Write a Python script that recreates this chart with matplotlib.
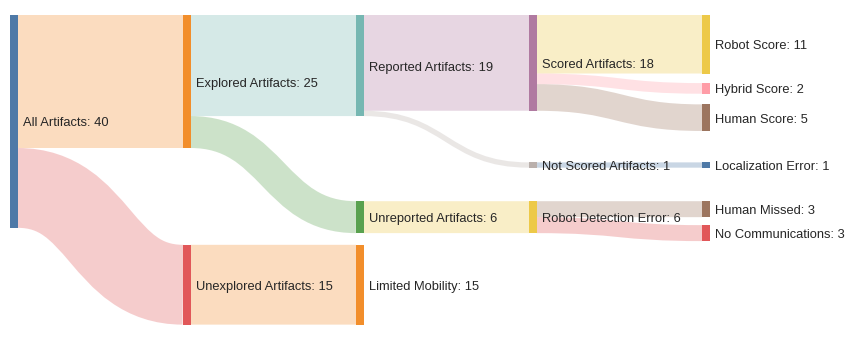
#!/usr/bin/env python3

import matplotlib
matplotlib.use('Agg')
import matplotlib.pyplot as plt
from matplotlib.path import Path
from matplotlib.patches import PathPatch, Rectangle

# --- data -------------------------------------------------------------
nodes = [
    'All Artifacts', 'Explored Artifacts', 'Unexplored Artifacts',
    'Reported Artifacts', 'Unreported Artifacts', 'Limited Mobility',
    'Scored Artifacts', 'Not Scored Artifacts', 'Robot Detection Error',
    'Robot Score', 'Hybrid Score', 'Human Score',
    'Localization Error', 'Human Missed', 'No Communications',
]
link_src = ['All Artifacts', 'All Artifacts',
            'Explored Artifacts', 'Explored Artifacts',
            'Unexplored Artifacts',
            'Reported Artifacts', 'Reported Artifacts',
            'Unreported Artifacts',
            'Scored Artifacts', 'Scored Artifacts', 'Scored Artifacts',
            'Not Scored Artifacts',
            'Robot Detection Error', 'Robot Detection Error']
link_tgt = ['Explored Artifacts', 'Unexplored Artifacts',
            'Reported Artifacts', 'Unreported Artifacts',
            'Limited Mobility',
            'Scored Artifacts', 'Not Scored Artifacts',
            'Robot Detection Error',
            'Robot Score', 'Hybrid Score', 'Human Score',
            'Localization Error',
            'Human Missed', 'No Communications']
link_val = [25, 15, 19, 6, 15, 18, 1, 6, 11, 2, 5, 1, 3, 3]

# --- style / layout ---------------------------------------------------
node_colors = ['#4e79a7', '#f28e2b', '#e15759', '#76b7b2', '#59a14f',
               '#f28e2b', '#b07aa1', '#bab0ac', '#edc948', '#edc948',
               '#ff9da7', '#9c755f', '#4e79a7', '#9c755f', '#e15759']
# padding above each node inside its column (value units)
pad_above = [0, 0, 18.2, 0, 16.0, 2.2, 0, 9.7, 6.3, 0, 1.8, 2.0, 5.9, 6.3, 1.5]

x0, dx, node_w = 10.0, 173.0, 7.6
y0, scale = 15.0, 5.32
link_alpha = 0.3

# --- layout -----------------------------------------------------------
idx = {n: i for i, n in enumerate(nodes)}
n = len(nodes)
depth = [0] * n
for _ in range(n):
    for s, t in zip(link_src, link_tgt):
        depth[idx[t]] = max(depth[idx[t]], depth[idx[s]] + 1)

value_in = [0] * n
value_out = [0] * n
for s, t, v in zip(link_src, link_tgt, link_val):
    value_out[idx[s]] += v
    value_in[idx[t]] += v
value = [max(a, b) for a, b in zip(value_in, value_out)]

top = [0.0] * n
col_bottom = {}
for i in range(n):
    d = depth[i]
    start = col_bottom.get(d, 0.0)
    top[i] = start + pad_above[i]
    col_bottom[d] = top[i] + value[i]

def px_x(col):
    return x0 + col * dx

def px_y(u):
    return y0 + u * scale

# --- draw -------------------------------------------------------------
fig = plt.figure(figsize=(8.55, 3.42), dpi=100)
ax = fig.add_axes([0, 0, 1, 1])
ax.set_xlim(0, 855)
ax.set_ylim(342, 0)
ax.set_axis_off()

# links sorted so each source stacks its outgoing links by target position
order = sorted(range(len(link_val)), key=lambda k: (idx[link_src[k]], top[idx[link_tgt[k]]]))
out_off = [0.0] * n
in_off = [0.0] * n
for k in order:
    s, t, v = idx[link_src[k]], idx[link_tgt[k]], link_val[k]
    ys = px_y(top[s] + out_off[s] + v / 2)
    yt = px_y(top[t] + in_off[t] + v / 2)
    out_off[s] += v
    in_off[t] += v
    xs = px_x(depth[s]) + node_w
    xt = px_x(depth[t])
    xm = (xs + xt) / 2
    path = Path([(xs, ys), (xm, ys), (xm, yt), (xt, yt)],
                [Path.MOVETO, Path.CURVE4, Path.CURVE4, Path.CURVE4])
    lw = v * scale * 72 / fig.dpi
    ax.add_patch(PathPatch(path, fill=False, edgecolor=node_colors[t],
                           alpha=link_alpha, linewidth=lw, capstyle='butt',
                           zorder=1))

for i, name in enumerate(nodes):
    x = px_x(depth[i])
    ax.add_patch(Rectangle((x, px_y(top[i])), node_w, value[i] * scale,
                           facecolor=node_colors[i], edgecolor='none', zorder=2))
    ax.text(x + node_w + 5.5, px_y(top[i] + value[i] / 2) + 2.0,
            f'{name}: {value[i]}', va='center', ha='left',
            fontsize=9.3, family=['Liberation Sans', 'DejaVu Sans'],
            color='#262626', zorder=3)

fig.savefig('out.png', dpi=100)
